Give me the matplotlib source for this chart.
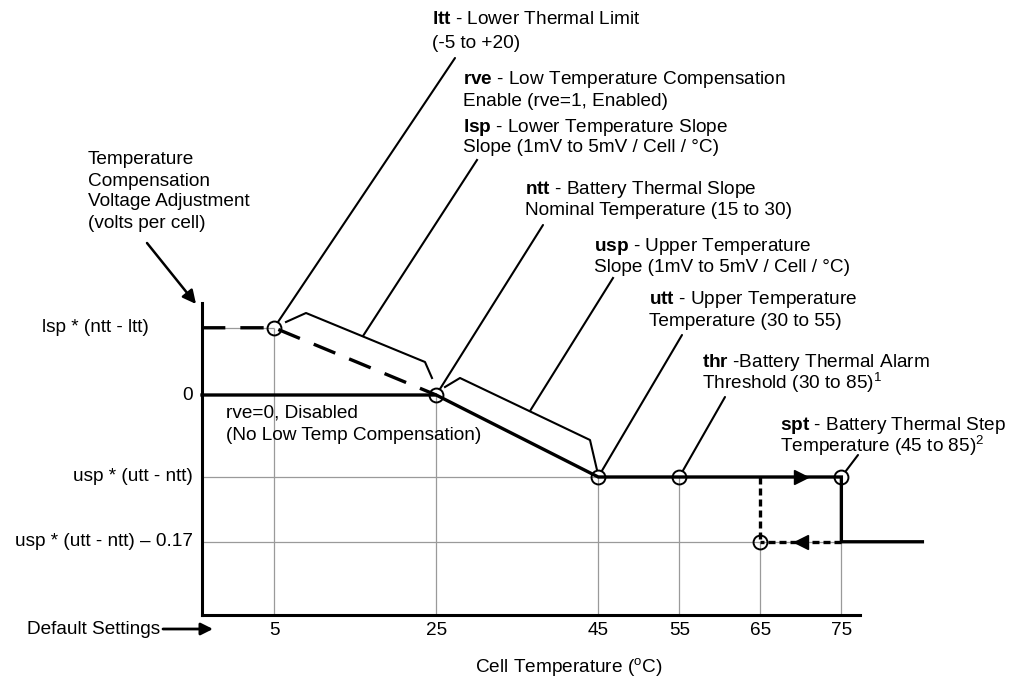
import matplotlib
matplotlib.use("Agg")
import matplotlib.pyplot as plt
from matplotlib.lines import Line2D
from matplotlib.transforms import blended_transform_factory

plt.rcParams['font.family'] = ['Liberation Sans', 'DejaVu Sans']
plt.rcParams['mathtext.fontset'] = 'custom'
plt.rcParams['mathtext.rm'] = 'Liberation Sans'
plt.rcParams['mathtext.bf'] = 'Liberation Sans:bold'
plt.rcParams['mathtext.it'] = 'Liberation Sans:italic'

W, H = 1034, 686

# default settings in deg C
ltt, ntt, utt, thr, hyst, spt = 5, 25, 45, 55, 65, 75
temp_ticks = [5, 25, 45, 55, 65, 75]
temp_end = 85          # step line runs on past the axis end
x_lo, x_hi = -3.9, 77.3

# compensation levels (arbitrary units)
lvl_low = 0.82
lvl_zero = 0.0
lvl_high = -1.0
lvl_step = -1.79
levels = [lvl_low, lvl_zero, lvl_high, lvl_step]
level_labels = ["lsp * (ntt - ltt)", "0", "usp * (utt - ntt)", "usp * (utt - ntt) \u2013 0.17"]
level_label_x = [42, 193, 193, 193]   # px from left
level_label_ha = ['left', 'right', 'right', 'right']

circ_x = [ltt, ntt, utt, thr, hyst, spt]
circ_y = [lvl_low, lvl_zero, lvl_high, lvl_high, lvl_step, lvl_high]

FS = 13.7
GRAY = '#9a9a9a'


def fp(x, y):
    # image pixel (top-left origin) -> figure fraction
    return (x / W, 1 - y / H)


fig = plt.figure(figsize=(W / 100, H / 100), dpi=100)
ax = fig.add_axes([202 / W, 71 / H, 658 / W, 312 / H])
ax.set_xlim(x_lo, x_hi)
ax.set_ylim(-2.683, 1.122)
for s in ['top', 'right']:
    ax.spines[s].set_visible(False)
for s in ['left', 'bottom']:
    ax.spines[s].set_linewidth(2.2)
ax.set_yticks([])
ax.set_xticks(temp_ticks)
ax.set_xticklabels([str(t) for t in temp_ticks])
ax.tick_params(axis='x', length=0, pad=5, labelsize=FS)

# thin drop lines
ax.vlines(circ_x, -2.683, circ_y, color=GRAY, lw=0.9, zorder=1)
ax.hlines([lvl_low, lvl_high, lvl_step], x_lo, [ltt, spt, spt], color=GRAY, lw=0.9, zorder=1)

# main curve (rve=0 / high side)
ax.plot([x_lo, ntt, utt, spt, spt, temp_end],
        [lvl_zero, lvl_zero, lvl_high, lvl_high, lvl_step, lvl_step],
        color='k', lw=2.4, clip_on=False, zorder=3, solid_joinstyle='miter')
# low temperature compensation (rve=1)
ax.plot([x_lo, ltt, ntt], [lvl_low, lvl_low, lvl_zero], color='k', lw=2.4,
        dashes=(7, 4.5), zorder=3)
# return path after step
ax.plot([hyst, hyst], [lvl_high, lvl_step], color='k', lw=2.4, dashes=(2.1, 1.2), zorder=3)
ax.plot([spt, hyst], [lvl_step, lvl_step], color='k', lw=2.4, dashes=(2.1, 1.2), zorder=3)
arrow_x = (hyst + spt) / 2
ax.plot(arrow_x, lvl_high, marker='>', ms=10, color='k', zorder=4)
ax.plot(arrow_x, lvl_step, marker='<', ms=10, color='k', zorder=4)

ax.plot(circ_x, circ_y, 'o', ms=10, mfc='none', mec='k', mew=1.4, zorder=5, clip_on=False)

# level labels
tr = blended_transform_factory(fig.transFigure, ax.transData)
for lab, lv, lx, ha in zip(level_labels, levels, level_label_x, level_label_ha):
    ax.text(lx / W, lv, lab, transform=tr, fontsize=FS, va='center', ha=ha)

# left caption with arrow
for i, s in enumerate(["Temperature", "Compensation", "Voltage Adjustment", "(volts per cell)"]):
    fig.text(*fp(88, 160 + 21 * i), s, fontsize=FS, va='center')
ax.annotate('', xy=fp(196, 304), xycoords='figure fraction', xytext=fp(147, 243),
            textcoords='figure fraction', annotation_clip=False,
            arrowprops=dict(arrowstyle='-|>', lw=1.8, color='k', mutation_scale=20,
                            shrinkA=0, shrinkB=0))

# bottom labels
fig.text(*fp(27, 630), "Default Settings", fontsize=FS, va='center')
ax.annotate('', xy=fp(213, 629), xycoords='figure fraction', xytext=fp(163, 629),
            textcoords='figure fraction', annotation_clip=False,
            arrowprops=dict(arrowstyle='-|>', lw=2, color='k', mutation_scale=18,
                            shrinkA=0, shrinkB=0))
fig.text(*fp(569, 667), r"Cell Temperature ($^{\mathrm{o}}$C)", fontsize=FS, ha='center', va='center')

# callout texts
notes = [
    (432, 20, r"$\mathbf{ltt}$ - Lower Thermal Limit"),
    (432, 43, "(-5 to +20)"),
    (463, 80, r"$\mathbf{rve}$ - Low Temperature Compensation"),
    (463, 101, "Enable (rve=1, Enabled)"),
    (463, 127, r"$\mathbf{lsp}$ - Lower Temperature Slope"),
    (463, 148, "Slope (1mV to 5mV / Cell / \u00b0C)"),
    (525, 190, r"$\mathbf{ntt}$ - Battery Thermal Slope"),
    (525, 211, "Nominal Temperature (15 to 30)"),
    (594, 247, r"$\mathbf{usp}$ - Upper Temperature"),
    (594, 268, "Slope (1mV to 5mV / Cell / \u00b0C)"),
    (649, 300, r"$\mathbf{utt}$ - Upper Temperature"),
    (649, 321, "Temperature (30 to 55)"),
    (702, 362, r"$\mathbf{thr}$ -Battery Thermal Alarm"),
    (702, 383, r"Threshold (30 to 85)$^{1}$"),
    (780, 425, r"$\mathbf{spt}$ - Battery Thermal Step"),
    (780, 446, r"Temperature (45 to 85)$^{2}$"),
    (226, 413, "rve=0, Disabled"),
    (226, 435, "(No Low Temp Compensation)"),
]
for x, y, s in notes:
    fig.text(*fp(x, y), s, fontsize=FS, va='center', ha='left')

# leaders to the marked points
leaders = [(ltt, lvl_low, 455, 58), (ntt, lvl_zero, 543, 225), (utt, lvl_high, 682, 335),
           (thr, lvl_high, 725, 397), (spt, lvl_high, 858, 455)]
for dx, dy, tx, ty in leaders:
    ax.annotate('', xy=(dx, dy), xytext=fp(tx, ty), textcoords='figure fraction',
                annotation_clip=False,
                arrowprops=dict(arrowstyle='-', lw=1.5, color='k', shrinkA=0, shrinkB=5))

# brackets along the slopes
brackets = [
    [(286, 322), (306, 313), (425, 362), (432, 378)],
    [(445, 387), (460, 378), (590, 440), (597, 470)],
]
for br in brackets:
    pts = [fp(x, y) for x, y in br]
    fig.add_artist(Line2D([p[0] for p in pts], [p[1] for p in pts], color='k', lw=1.5,
                          transform=fig.transFigure))
for (x0, y0), (x1, y1) in [((363, 336), (477, 160)), ((530, 411), (613, 278))]:
    a, b = fp(x0, y0), fp(x1, y1)
    fig.add_artist(Line2D([a[0], b[0]], [a[1], b[1]], color='k', lw=1.5, transform=fig.transFigure))

fig.savefig("out.png", dpi=100)
